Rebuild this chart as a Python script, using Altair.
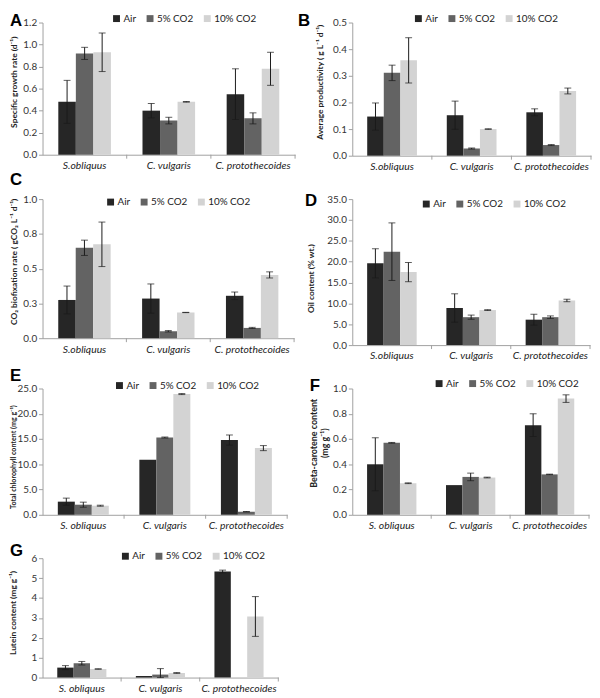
import altair as alt
import pandas as pd

FONT = "Lato"

species_top = ["S.obliquus", "C. vulgaris", "C. protothecoides"]
species_bottom = ["S. obliquus", "C. vulgaris", "C. protothecoides"]
conditions = ["Air", "5% CO2", "10% CO2"]
bar_colors = ["#262626", "#636363", "#d3d3d3"]

# each row: one species, values for [Air, 5% CO2, 10% CO2]
growth_mean = [[0.48, 0.92, 0.93], [0.40, 0.31, 0.48], [0.55, 0.33, 0.78]]
growth_err = [[0.195, 0.055, 0.175], [0.065, 0.03, 0.003], [0.23, 0.05, 0.15]]

prod_mean = [[0.147, 0.311, 0.358], [0.152, 0.027, 0.100], [0.163, 0.040, 0.243]]
prod_err = [[0.051, 0.029, 0.085], [0.053, 0.002, 0.001], [0.013, 0.002, 0.011]]

co2_mean = [[0.275, 0.65, 0.675], [0.285, 0.05, 0.185], [0.305, 0.074, 0.455]]
co2_err = [[0.10, 0.055, 0.16], [0.105, 0.005, 0.001], [0.027, 0.004, 0.022]]

oil_mean = [[19.6, 22.4, 17.5], [8.9, 6.7, 8.4], [6.1, 6.7, 10.7]]
oil_err = [[3.5, 6.9, 2.3], [3.4, 0.5, 0.1], [1.3, 0.3, 0.3]]

chl_mean = [[2.6, 2.0, 1.8], [10.9, 15.3, 23.9], [14.8, 0.6, 13.2]]
chl_err = [[0.7, 0.5, 0.1], [None, 0.1, 0.1], [1.0, 0.05, 0.5]]

beta_mean = [[0.40, 0.57, 0.25], [0.235, 0.30, 0.295], [0.71, 0.32, 0.92]]
beta_err = [[0.21, 0.003, 0.003], [None, 0.03, 0.003], [0.09, 0.002, 0.03]]

lutein_mean = [[0.50, 0.72, 0.43], [0.08, 0.15, 0.23], [5.33, None, 3.07]]
lutein_err = [[0.10, 0.09, 0.01], [None, 0.30, 0.02], [0.07, None, 1.0]]

AXIS_GREY = "#a0a0a0"


def panel(letter, cats, means, errs, ytitle, ydomain, yticks, yfmt,
          w, h, letter_xy, legend_xy, title_xy, title_size):
    rows, erows = [], []
    for i, sp in enumerate(cats):
        for j, cond in enumerate(conditions):
            v = means[i][j]
            if v is None:
                continue
            rows.append({"species": sp, "condition": cond, "value": v})
            e = errs[i][j]
            if e is not None:
                erows.append({"species": sp, "condition": cond,
                              "lo": max(0.0, v - e), "hi": v + e})
    df = pd.DataFrame(rows)
    edf = pd.DataFrame(erows)
    cdf = pd.DataFrame({"species": cats})

    xscale = alt.Scale(domain=cats, paddingInner=0, paddingOuter=0)
    xaxis = alt.Axis(title=None, labelAngle=0, ticks=False, grid=False,
                     domainColor=AXIS_GREY, labelFont=FONT, labelFontSize=10.5,
                     labelFontStyle="italic", labelColor="#222", labelPadding=6)
    xoff = alt.XOffset("condition:N", scale=alt.Scale(domain=conditions, paddingOuter=0.9, paddingInner=0))
    yscale = alt.Scale(domain=ydomain, nice=False, zero=True, clamp=True)
    yaxis = alt.Axis(title=ytitle, values=yticks, format=yfmt, grid=False,
                     tickSize=4, tickColor=AXIS_GREY, domainColor=AXIS_GREY,
                     labelFont=FONT, labelFontSize=10, labelColor="#333", labelPadding=2,
                     titleFont=FONT, titleFontSize=title_size, titleFontWeight="bold",
                     titleColor="#222", titleX=title_xy[0], titleY=title_xy[1],
                     titleLineHeight=title_size + 2)

    bars = alt.Chart(df).mark_bar().encode(
        x=alt.X("species:N", scale=xscale, axis=xaxis),
        xOffset=xoff,
        y=alt.Y("value:Q", scale=yscale, axis=yaxis),
        color=alt.Color("condition:N",
                        scale=alt.Scale(domain=conditions, range=bar_colors),
                        legend=alt.Legend(title=None, orient="none",
                                          legendX=legend_xy[0], legendY=legend_xy[1],
                                          direction="horizontal", symbolType="square",
                                          symbolSize=49, symbolStrokeWidth=0,
                                          labelFont=FONT, labelFontSize=10,
                                          labelColor="#222", labelOffset=2,
                                          columnPadding=9, padding=0)),
    )
    err = alt.Chart(edf).mark_rule(color="#1a1a1a", strokeWidth=1).encode(
        x=alt.X("species:N", scale=xscale, axis=xaxis),
        xOffset=xoff,
        y=alt.Y("lo:Q", scale=yscale, axis=yaxis),
        y2="hi:Q",
    )
    cap_hi = alt.Chart(edf).mark_tick(color="#1a1a1a", thickness=1, size=7, orient="horizontal").encode(
        x=alt.X("species:N", scale=xscale, axis=xaxis),
        xOffset=xoff,
        y=alt.Y("hi:Q", scale=yscale, axis=yaxis),
    )
    cap_lo = alt.Chart(edf).mark_tick(color="#1a1a1a", thickness=1, size=7, orient="horizontal").encode(
        x=alt.X("species:N", scale=xscale, axis=xaxis),
        xOffset=xoff,
        y=alt.Y("lo:Q", scale=yscale, axis=yaxis),
    )
    sep = alt.Chart(cdf).mark_rule(color=AXIS_GREY, strokeWidth=1).encode(
        x=alt.X("species:N", scale=xscale, axis=xaxis, bandPosition=1),
        y=alt.value(h),
        y2=alt.value(h + 4),
    )
    lab = alt.Chart(pd.DataFrame({"t": [letter]})).mark_text(
        font="Liberation Sans", fontSize=17, fontWeight="bold", color="#000",
        align="left", baseline="top",
    ).encode(text="t:N", x=alt.value(letter_xy[0]), y=alt.value(letter_xy[1]))

    return alt.layer(bars, err, cap_hi, cap_lo, sep, lab).properties(width=w, height=h)


pA = panel("A", species_top, growth_mean, growth_err, "Specific growth rate (d⁻¹)",
           [0, 1.2], [0, 0.2, 0.4, 0.6, 0.8, 1.0, 1.2], ".1f",
           256, 134, (-33, -9), (70, -9), (-24, 60), 8.5)
pB = panel("B", species_top, prod_mean, prod_err, "Average  productivity ( g L⁻¹ d⁻¹)",
           [0, 0.5], [0, 0.1, 0.2, 0.3, 0.4, 0.5], ".1f",
           242, 135, (-55, -9), (62, -9), (-28, 60), 8.5)
pC = panel("C", species_top, co2_mean, co2_err, "CO₂ biofixation rate ( gCO₂ L⁻¹ d⁻¹)",
           [0, 1.0], [0, 0.25, 0.5, 0.75, 1.0], ".1f",
           255, 141, (-33, -27), (64, -2), (-24, 63), 8.5)
pD = panel("D", species_top, oil_mean, oil_err, "Oil  content (% wt.)",
           [0, 35], [0, 5, 10, 15, 20, 25, 30, 35], ".1f",
           241, 148, (-48, -6), (70, 0), (-37, 80), 8.5)
pE = panel("E", species_bottom, chl_mean, chl_err, "Total chlorophyll content (mg g⁻¹)",
           [0, 25], [0, 5, 10, 15, 20, 25], ".1f",
           248, 128, (-33, -21), (73, -8), (-25, 69), 7.2)
pF = panel("F", species_bottom, beta_mean, beta_err, ["Beta-carotene content", "(mg g⁻¹)"],
           [0, 1.0], [0, 0.2, 0.4, 0.6, 0.8, 1.0], ".1f",
           240, 128, (-43, -10), (83, -10), (-34, 55), 9)
pG = panel("G", species_bottom, lutein_mean, lutein_err, "Lutein content (mg g⁻¹)",
           [0, 6], [0, 1, 2, 3, 4, 5, 6], "d",
           239, 121, (-33, -15), (79, -7), (-25, 55), 8.5)

chart = alt.concat(
    pA, pB, pC, pD, pE, pF, pG,
    columns=2,
    spacing={"row": 44, "column": 58},
    bounds="flush",
    align="each",
).resolve_scale(
    color="independent", x="independent", y="independent", xOffset="independent"
).resolve_legend(
    color="independent"
).configure_view(
    strokeWidth=0
).properties(
    padding=0,
    background="white",
)

chart.save("out.html", embed_options={"renderer": "svg", "actions": False})
